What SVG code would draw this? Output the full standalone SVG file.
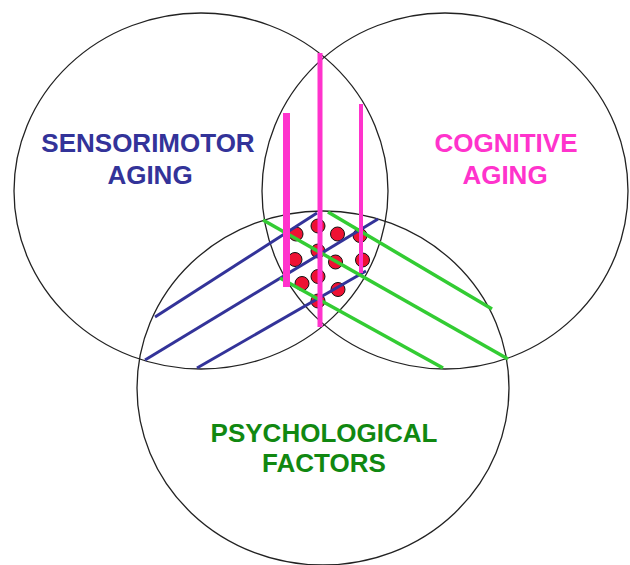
<svg xmlns="http://www.w3.org/2000/svg" width="630" height="565" viewBox="0 0 630 565">
<style>
.c{fill:none;stroke:#222;stroke-width:1.3}
.t{font-family:"Liberation Sans",Arial,sans-serif;font-weight:bold;font-size:26px;text-anchor:middle}
.b{stroke:#333399;stroke-width:3;stroke-linecap:butt}
.g{stroke:#33cc33;stroke-width:3.5}
.m{stroke:#ff33cc}
.d{fill:#ee1133;stroke:#111;stroke-width:1}
</style>
<rect width="630" height="565" fill="#fff"/>
<g id="sensorimotor">
<ellipse class="c" cx="201" cy="191" rx="187" ry="178"/>
<text class="t" fill="#333399" x="148" y="152">SENSORIMOTOR</text>
<text class="t" fill="#333399" x="150" y="184">AGING</text>
</g>
<g id="cognitive">
<ellipse class="c" cx="445" cy="191" rx="183" ry="178"/>
<text class="t" fill="#ff33cc" x="506" y="152">COGNITIVE</text>
<text class="t" fill="#ff33cc" x="505" y="184">AGING</text>
</g>
<g id="psychological">
<ellipse class="c" cx="323" cy="388" rx="186" ry="177"/>
<text class="t" fill="#118811" x="324" y="442">PSYCHOLOGICAL</text>
<text class="t" fill="#118811" x="324" y="472">FACTORS</text>
</g>
<g id="dots">
<circle class="d" cx="296" cy="234" r="7"/>
<circle class="d" cx="318" cy="226" r="7"/>
<circle class="d" cx="337.5" cy="234" r="7"/>
<circle class="d" cx="360" cy="235.5" r="7"/>
<circle class="d" cx="295" cy="259.5" r="7"/>
<circle class="d" cx="318" cy="251" r="7"/>
<circle class="d" cx="335.5" cy="262" r="7"/>
<circle class="d" cx="362.5" cy="260" r="7"/>
<circle class="d" cx="302" cy="283.5" r="7"/>
<circle class="d" cx="318" cy="276.5" r="7"/>
<circle class="d" cx="338" cy="289.5" r="7"/>
<circle class="d" cx="318" cy="301" r="7"/>
</g>
<g id="connectors">
<line class="b" x1="155" y1="317" x2="317" y2="213"/>
<line class="b" x1="145" y1="360" x2="378" y2="219"/>
<line class="b" x1="197" y1="368" x2="366" y2="271"/>
<line class="g" x1="263" y1="220" x2="508" y2="359"/>
<line class="g" x1="328" y1="212" x2="492" y2="309"/>
<line class="g" x1="280" y1="278" x2="443" y2="368"/>
<line class="m" x1="286.5" y1="113" x2="286.5" y2="287" stroke-width="7"/>
<line class="m" x1="320" y1="53" x2="320" y2="327" stroke-width="5"/>
<line class="m" x1="361" y1="104" x2="361" y2="273" stroke-width="4"/>
</g>
</svg>
